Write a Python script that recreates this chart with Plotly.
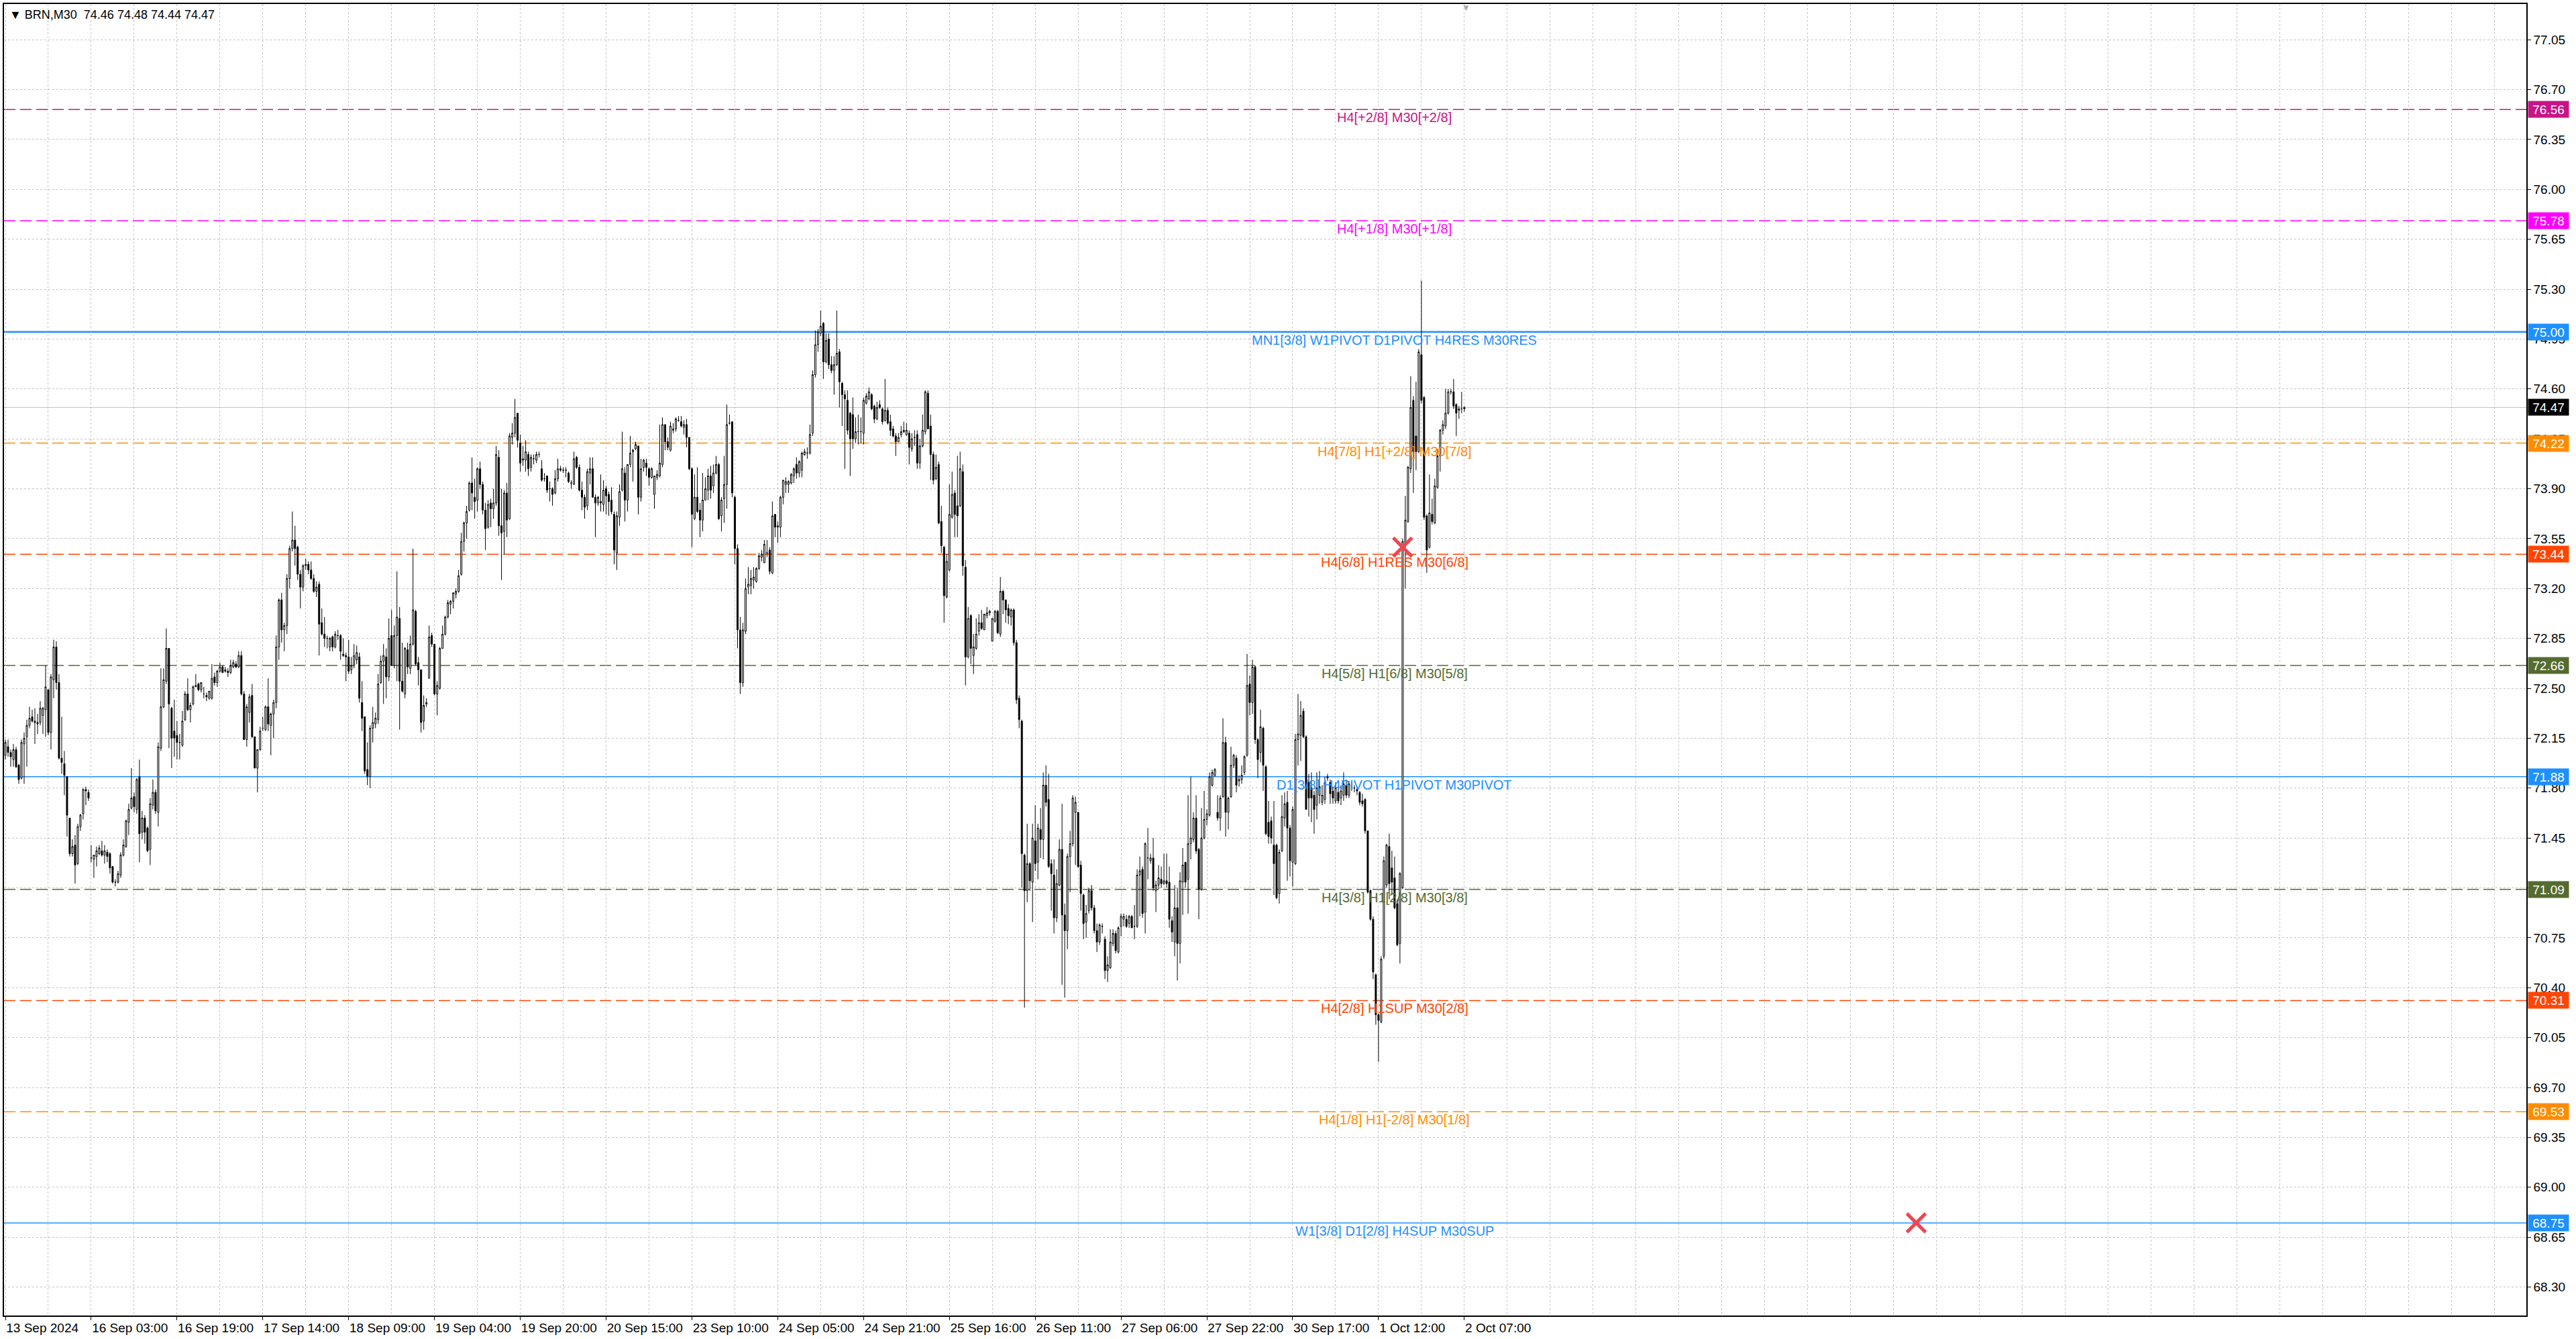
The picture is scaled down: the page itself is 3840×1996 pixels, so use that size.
import plotly.graph_objects as go

# BRN,M30 candles, x = bar number (MT4 style, no time gaps)
bar_open = [
    72.03,72.09,72.05,72.00,72.07,71.96,71.87,72.11,72.16,72.24,
    72.30,72.27,72.26,72.26,72.31,72.35,72.49,72.19,72.56,72.79,
    72.54,72.01,71.97,71.88,71.59,71.34,71.40,71.27,71.53,71.62,
    71.79,71.77,71.31,71.30,71.32,71.34,71.36,71.33,71.35,71.34,
    71.25,71.14,71.14,71.19,71.33,71.39,71.56,71.66,71.74,71.65,
    71.88,71.49,71.59,71.52,71.37,71.68,71.77,71.63,72.08,72.37,
    72.55,72.78,72.36,72.20,72.17,72.12,72.10,72.28,72.46,72.35,
    72.39,72.51,72.53,72.49,72.46,72.45,72.43,72.43,72.58,72.54,
    72.62,72.65,72.62,72.62,72.61,72.65,72.67,72.65,72.73,72.46,
    72.14,72.33,72.45,72.16,71.94,72.07,72.22,72.21,72.37,72.24,
    72.32,72.40,72.79,73.12,72.91,72.94,73.27,73.48,73.54,73.49,
    73.30,73.21,73.36,73.37,73.33,73.27,73.18,
    73.23,72.96,72.88,
    72.85,72.79,72.86,72.79,72.87,72.87,72.74,72.73,72.72,72.63,
    72.66,72.70,72.72,72.40,72.30,71.93,71.88,72.22,72.25,72.28,
    72.54,72.69,72.72,72.58,72.87,72.66,72.87,72.99,72.55,72.46,
    72.77,72.64,72.81,73.04,72.68,72.63,72.27,72.39,72.57,72.87,
    72.81,72.46,72.50,72.78,72.88,73.00,73.09,73.11,73.16,73.18,
    73.30,73.53,73.66,73.75,73.94,73.84,73.82,74.04,73.93,73.75,
    73.63,73.80,73.76,73.80,74.12,73.64,73.60,73.87,73.69,74.26,
    74.29,74.43,74.22,74.10,74.10,74.14,74.05,74.11,74.10,74.14,
    74.04,73.97,73.99,73.90,73.90,73.87,73.97,74.04,74.03,74.03,
    74.01,73.94,73.93,74.12,74.05,73.89,73.84,73.78,74.01,74.04,
    73.84,73.80,73.81,73.79,73.90,73.86,73.82,73.72,73.45,73.70,
    73.89,74.01,73.82,74.07,74.16,74.18,74.20,73.84,74.05,74.08,
    74.04,73.98,73.86,73.98,73.99,74.07,74.35,74.23,74.17,74.31,
    74.32,74.38,74.37,74.33,74.35,74.26,74.04,73.69,73.84,73.75,
    73.68,73.82,73.89,73.99,73.92,74.01,74.07,73.71,73.83,73.93,
    74.36,74.37,73.84,73.48,72.91,72.54,72.90,73.21,73.22,73.26,
    73.25,73.34,73.42,73.38,73.45,73.47,73.31,73.72,73.63,73.63,
    73.84,73.93,73.93,73.94,73.99,74.07,74.01,74.03,74.14,74.15,
    74.15,74.29,74.70,74.91,74.99,75.06,74.79,74.95,74.77,74.73,
    74.77,74.86,74.64,74.56,74.52,74.43,74.42,74.25,74.30,74.30,
    74.29,74.50,74.53,74.56,74.48,74.39,74.49,74.46,74.38,74.45,
    74.37,74.32,74.27,74.23,74.28,74.30,74.28,74.29,74.18,74.26,
    74.28,74.08,74.20,74.30,74.57,74.34,74.14,
    73.97,74.07,73.67,
    73.49,73.14,73.33,73.70,73.87,73.78,73.78,74.02,73.35,72.72,
    73.01,72.73,72.78,72.90,72.96,72.91,73.01,73.03,72.83,72.97,
    73.04,72.88,73.18,73.12,73.06,73.00,73.05,72.82,72.43,72.27,
    71.33,71.08,71.27,71.14,71.43,71.28,71.51,71.44,71.82,71.72,
    71.27,71.19,70.89,71.12,71.37,70.91,70.80,71.32,71.41,71.63,
    71.63,71.26,71.05,70.86,70.94,71.08,70.96,70.80,70.72,70.83,
    70.74,70.52,70.54,70.71,70.78,70.65,70.83,70.88,70.88,70.85,
    70.90,70.83,70.83,71.19,71.23,70.93,71.31,71.29,71.31,71.08,
    71.12,71.16,71.13,71.15,71.14,70.87,70.72,70.96,70.71,71.14,
    71.28,71.16,71.41,71.44,71.59,71.37,71.09,71.45,71.58,71.61,
    71.82,71.89,71.63,71.59,71.74,72.12,71.63,71.74,71.96,72.01,
    71.85,71.86,
    71.91,72.03,72.53,72.40,72.65,72.14,72.05,72.22,
    71.95,71.56,71.57,71.40,71.40,71.06,71.36,71.59,71.70,71.52,
    71.28,71.27,72.14,72.17,72.34,72.16,71.84,71.80,71.75,71.68,
    71.75,71.70,71.72,71.87,71.84,71.78,71.71,71.77,71.73,71.75,
    71.82,71.75,71.81,71.80,71.79,71.77,71.71,71.72,71.50,71.08,
    70.88,70.49,70.21,70.16,70.62,71.12,71.39,71.24,71.17,70.99,
    70.71,71.10,73.52,73.67,74.04,74.52,74.27,74.16,74.84,74.54,
    73.71,73.49,73.72,73.66,73.91,74.13,74.31,74.34,74.43,74.58,
    74.58,74.49,74.45,74.46,74.46,
]
bar_high = [
    72.14,72.14,72.07,72.11,72.09,71.97,72.14,72.19,72.28,72.37,
    72.35,72.36,72.32,72.41,72.37,72.66,72.49,72.60,72.84,72.83,
    72.60,72.30,72.06,71.88,71.59,71.44,71.47,71.55,71.62,71.80,
    71.81,71.79,71.40,71.33,71.39,71.40,71.43,71.40,71.37,71.35,
    71.25,71.16,71.22,71.35,71.44,71.58,71.69,71.94,71.77,71.87,
    72.00,71.64,71.61,71.53,71.73,71.86,71.79,72.12,72.64,72.64,
    72.92,72.78,72.37,72.42,72.27,72.18,72.34,72.48,72.57,72.40,
    72.52,72.60,72.54,72.54,72.51,72.47,72.48,72.67,72.61,72.63,
    72.68,72.66,72.65,72.64,72.70,72.70,72.69,72.76,72.76,72.48,
    72.39,72.46,72.53,72.16,72.07,72.23,72.30,72.38,72.57,72.33,
    72.42,72.87,73.13,73.17,72.96,73.30,73.50,73.74,73.64,73.50,
    73.33,73.37,73.41,73.39,73.39,73.30,73.25,
    73.25,73.06,73.00,
    72.87,72.86,72.87,72.90,72.91,72.88,72.85,72.75,72.84,72.72,
    72.81,72.80,72.75,72.55,72.30,72.12,72.24,72.37,72.33,72.60,
    72.73,72.81,72.78,72.99,73.05,72.94,73.32,73.07,72.82,72.79,
    72.82,72.87,73.48,73.05,72.72,72.63,72.45,72.43,72.94,72.89,
    72.81,72.55,72.79,72.94,73.01,73.12,73.12,73.17,73.20,73.33,
    73.59,73.67,73.78,73.95,74.12,73.97,74.05,74.09,73.95,73.80,
    73.82,73.83,73.90,74.20,74.17,73.90,73.89,73.94,74.29,74.36,
    74.53,74.43,74.28,74.20,74.24,74.16,74.14,74.14,74.16,74.16,
    74.10,74.01,73.99,73.95,73.91,74.03,74.11,74.06,74.05,74.05,
    74.02,73.96,74.16,74.13,74.07,73.95,73.86,74.04,74.12,74.12,
    73.86,73.85,74.00,73.96,73.92,73.88,73.91,73.74,73.74,73.93,
    74.30,74.05,74.07,74.27,74.18,74.23,74.20,74.11,74.11,74.11,
    74.05,74.05,73.99,74.03,74.35,74.40,74.35,74.26,74.37,74.36,
    74.40,74.41,74.41,74.38,74.39,74.26,74.05,74.00,74.05,73.80,
    74.01,73.98,74.04,74.06,74.07,74.13,74.08,73.84,74.13,74.49,
    74.42,74.37,73.85,73.51,73.00,72.96,73.27,73.35,73.33,73.35,
    73.35,73.45,73.47,73.54,73.54,73.49,73.81,73.72,73.67,73.85,
    73.96,73.98,73.96,74.01,74.05,74.12,74.10,74.16,74.18,74.19,
    74.35,74.73,75.01,75.02,75.15,75.07,74.99,74.99,74.83,74.83,
    75.15,74.88,74.65,74.59,74.59,74.44,74.54,74.40,74.42,74.40,
    74.54,74.57,74.61,74.57,74.49,74.51,74.52,74.47,74.67,74.47,
    74.42,74.34,74.29,74.29,74.34,74.37,74.36,74.31,74.29,74.31,
    74.31,74.25,74.42,74.59,74.59,74.42,74.16,
    74.14,74.09,73.78,
    73.50,73.44,73.93,74.02,73.89,74.13,74.16,74.07,73.40,73.07,
    73.02,72.88,72.99,73.02,73.05,73.02,73.07,73.05,72.99,73.05,
    73.05,73.28,73.19,73.12,73.09,73.06,73.06,72.84,72.45,72.28,
    71.34,71.55,71.28,71.55,71.68,71.55,71.66,71.91,71.96,71.90,
    71.30,71.30,71.23,71.44,71.69,70.99,71.34,71.50,71.75,71.74,
    71.63,71.29,71.06,70.98,71.10,71.12,70.98,70.85,70.85,70.85,
    70.76,70.62,70.81,70.81,70.80,70.83,70.92,70.92,70.91,70.91,
    70.91,70.98,71.23,71.32,71.25,71.42,71.52,71.34,71.45,71.15,
    71.26,71.25,71.34,71.34,71.25,70.90,71.12,71.10,71.21,71.38,
    71.28,71.75,71.88,71.63,71.75,71.38,71.66,71.78,71.65,71.91,
    71.93,71.94,71.75,71.75,72.29,72.16,71.74,72.09,72.04,72.03,
    71.89,71.96,
    72.03,72.74,72.59,72.70,72.66,72.15,72.35,72.23,
    71.96,71.71,71.60,71.71,71.41,71.37,71.75,71.77,71.78,71.54,
    71.67,72.18,72.46,72.41,72.36,72.17,71.90,71.91,71.78,71.91,
    71.92,71.82,71.88,71.90,71.86,71.81,71.84,71.81,71.82,71.91,
    71.86,71.85,71.84,71.82,71.81,71.78,71.76,71.73,71.50,71.09,
    70.90,70.50,70.22,70.62,71.32,71.41,71.48,71.36,71.32,71.02,
    71.21,73.55,73.85,74.06,74.69,74.55,74.65,74.88,75.36,74.55,
    73.72,74.00,73.83,73.97,74.18,74.32,74.38,74.60,74.60,74.60,
    74.67,74.50,74.48,74.58,74.48,
]
bar_low = [
    72.00,72.02,71.95,71.95,71.94,71.83,71.86,71.83,71.95,72.22,
    72.26,72.11,72.18,72.24,72.18,72.16,72.17,72.07,72.43,72.49,
    72.00,71.90,71.75,71.46,71.32,71.32,71.13,71.26,71.50,71.58,
    71.68,71.71,71.28,71.17,71.25,71.33,71.32,71.27,71.28,71.20,
    71.13,71.11,71.13,71.17,71.32,71.38,71.47,71.65,71.63,71.62,
    71.28,71.44,71.41,71.35,71.26,71.65,71.62,71.53,72.06,72.36,
    72.53,72.08,71.94,72.02,72.00,72.00,72.09,72.27,72.34,72.26,
    72.38,72.51,72.48,72.47,72.43,72.41,72.42,72.42,72.52,72.51,
    72.61,72.61,72.61,72.58,72.60,72.64,72.64,72.64,72.45,72.14,
    72.09,72.26,72.15,71.94,71.77,72.06,72.20,72.20,72.20,72.03,
    72.15,72.36,72.70,72.82,72.76,72.88,73.20,73.46,73.36,73.26,
    73.06,73.18,73.33,73.30,73.26,73.17,73.14,
    72.73,72.87,72.79,
    72.78,72.76,72.76,72.78,72.84,72.70,72.72,72.55,72.60,72.60,
    72.64,72.67,72.40,72.20,71.90,71.82,71.80,72.12,72.22,72.25,
    72.53,72.39,72.43,72.55,72.66,72.64,72.55,72.21,72.47,72.43,
    72.60,72.60,72.80,72.66,72.52,72.19,72.21,72.37,72.57,72.79,
    72.45,72.31,72.49,72.78,72.87,72.99,73.02,73.06,73.13,73.17,
    73.29,73.46,73.55,73.74,73.75,73.69,73.74,73.90,73.72,73.47,
    73.62,73.63,73.69,73.78,73.57,73.26,73.44,73.56,73.68,74.21,
    74.26,74.19,74.02,74.06,74.02,73.99,74.02,74.07,74.08,74.12,
    73.95,73.95,73.87,73.81,73.78,73.86,73.95,74.02,74.01,73.98,
    73.94,73.90,73.93,74.04,73.88,73.75,73.69,73.75,73.93,73.84,
    73.56,73.78,73.74,73.74,73.72,73.71,73.72,73.37,73.33,73.64,
    73.88,73.67,73.74,74.05,73.95,74.17,73.72,73.81,74.02,73.99,
    73.92,73.97,73.76,73.96,73.98,74.05,74.17,74.17,74.16,74.29,
    74.30,74.37,74.33,74.28,74.19,74.03,73.49,73.68,73.73,73.56,
    73.60,73.82,73.82,73.83,73.87,74.00,73.68,73.60,73.66,73.76,
    74.35,73.84,73.37,72.78,72.46,72.51,72.88,73.16,73.16,73.20,
    73.24,73.33,73.39,73.38,73.42,73.30,73.30,73.56,73.52,73.56,
    73.79,73.87,73.87,73.93,73.94,73.97,73.98,73.98,74.13,74.11,
    74.14,74.27,74.68,74.86,74.97,74.67,74.78,74.74,74.71,74.56,
    74.76,74.47,74.34,74.04,74.28,73.99,74.18,74.22,74.21,74.22,
    74.21,74.49,74.52,74.45,74.36,74.38,74.46,74.35,74.37,74.35,
    74.27,74.26,74.13,74.23,74.26,74.29,74.27,74.07,74.16,74.20,
    74.04,74.04,74.19,74.28,74.32,73.96,73.93,
    73.96,73.65,73.45,
    72.96,73.13,73.32,73.69,73.56,73.56,73.77,73.29,72.52,72.71,
    72.67,72.60,72.77,72.87,72.91,72.91,72.99,73.01,72.83,72.96,
    72.88,72.86,73.02,72.96,72.95,72.94,72.80,72.39,72.22,71.10,
    70.26,71.00,71.08,70.86,71.22,71.16,71.31,71.30,71.67,71.24,
    70.94,70.78,70.86,71.11,70.42,70.33,70.67,71.07,71.39,71.26,
    71.24,70.94,70.74,70.75,70.92,70.94,70.78,70.65,70.70,70.78,
    70.46,70.44,70.53,70.69,70.64,70.64,70.76,70.83,70.82,70.82,
    70.82,70.74,70.82,70.90,70.89,70.78,71.16,71.27,71.08,70.93,
    71.09,71.10,71.12,71.10,70.82,70.72,70.62,70.45,70.57,70.91,
    71.10,70.92,71.30,71.42,71.34,70.88,71.08,71.44,71.54,71.60,
    71.81,71.88,71.57,71.50,71.73,71.46,71.51,71.73,71.94,71.77,
    71.81,71.83,
    71.89,72.02,72.31,72.32,72.11,71.87,71.98,71.78,
    71.47,71.41,71.41,71.05,71.02,70.99,71.35,71.53,71.15,71.18,
    71.11,71.26,71.96,71.99,72.15,71.65,71.60,71.56,71.48,71.58,
    71.69,71.68,71.69,71.85,71.69,71.69,71.69,71.69,71.68,71.71,
    71.73,71.73,71.78,71.77,71.75,71.68,71.67,71.48,71.06,70.87,
    70.46,70.14,69.88,70.15,70.60,71.10,71.02,71.05,70.95,70.69,
    70.57,71.09,73.20,73.66,74.01,73.87,74.03,74.15,74.50,73.68,
    73.31,73.48,73.65,73.65,73.90,74.02,74.28,74.32,74.42,74.56,
    74.46,74.27,74.39,74.43,74.44,
]
bar_close = [
    72.12,72.05,72.02,72.07,71.95,71.86,72.12,72.15,72.24,72.29,
    72.27,72.26,72.25,72.36,72.36,72.51,72.19,72.58,72.79,72.54,
    72.01,71.98,71.89,71.61,71.34,71.39,71.26,71.53,71.61,71.79,
    71.78,71.73,71.31,71.33,71.36,71.38,71.33,71.36,71.32,71.24,
    71.14,71.14,71.20,71.33,71.40,71.57,71.65,71.73,71.67,71.86,
    71.48,71.59,71.49,71.36,71.69,71.77,71.64,72.09,72.37,72.56,
    72.78,72.39,72.15,72.15,72.12,72.12,72.27,72.46,72.35,72.38,
    72.51,72.52,72.49,72.54,72.46,72.44,72.48,72.57,72.54,72.62,
    72.65,72.61,72.63,72.61,72.66,72.68,72.65,72.73,72.46,72.14,
    72.37,72.44,72.16,71.94,72.07,72.20,72.22,72.37,72.25,72.32,
    72.40,72.79,73.12,72.91,72.94,73.27,73.48,73.54,73.48,73.30,
    73.21,73.36,73.37,73.33,73.27,73.18,73.21,
    72.95,72.88,72.85,
    72.85,72.85,72.79,72.88,72.87,72.76,72.73,72.72,72.62,72.66,
    72.73,72.75,72.43,72.29,71.92,71.88,72.22,72.26,72.29,72.53,
    72.69,72.73,72.58,72.85,72.66,72.87,73.00,72.55,72.48,72.78,
    72.65,72.81,73.05,72.67,72.63,72.26,72.38,72.40,72.86,72.81,
    72.46,72.52,72.78,72.88,73.00,73.10,73.11,73.17,73.18,73.29,
    73.53,73.66,73.74,73.94,73.87,73.81,74.04,73.93,73.75,73.62,
    73.79,73.76,73.80,74.14,73.64,73.59,73.87,73.68,74.27,74.29,
    74.40,74.24,74.08,74.11,74.16,74.04,74.12,74.11,74.14,74.14,
    73.96,73.97,73.89,73.90,73.86,73.97,74.04,74.03,74.03,74.03,
    73.95,73.94,74.11,74.05,73.89,73.84,73.77,74.02,74.04,73.84,
    73.80,73.84,73.80,73.89,73.85,73.81,73.74,73.47,73.71,73.88,
    74.04,73.82,74.07,74.15,74.17,74.21,73.84,74.04,74.10,74.05,
    73.98,74.04,73.99,74.00,74.08,74.35,74.23,74.19,74.34,74.32,
    74.39,74.38,74.34,74.35,74.26,74.04,73.72,73.84,73.74,73.68,
    73.82,73.90,73.99,73.89,74.01,74.07,73.69,73.82,73.93,74.35,
    74.36,73.87,73.48,72.91,72.54,72.91,73.20,73.23,73.27,73.28,
    73.34,73.43,73.44,73.51,73.45,73.32,73.71,73.63,73.64,73.84,
    73.96,73.95,73.95,74.00,74.04,74.01,74.09,74.15,74.16,74.15,
    74.28,74.70,74.91,75.00,75.04,74.79,74.94,74.77,74.73,74.77,
    74.85,74.65,74.56,74.53,74.31,74.25,74.25,74.30,74.30,74.30,
    74.52,74.55,74.58,74.46,74.39,74.47,74.47,74.37,74.45,74.36,
    74.31,74.27,74.23,74.26,74.30,74.31,74.31,74.19,74.25,74.26,
    74.08,74.20,74.31,74.58,74.32,74.14,73.96,
    74.05,73.66,73.50,
    73.15,73.39,73.72,73.86,73.72,73.71,74.04,73.36,72.72,72.99,
    72.78,72.79,72.88,72.96,72.92,73.02,73.03,73.04,72.99,73.04,
    72.89,73.18,73.12,73.05,73.01,73.05,72.82,72.42,72.28,71.34,
    71.08,71.27,71.15,71.45,71.27,71.52,71.44,71.82,71.70,71.25,
    71.20,70.89,71.13,71.37,70.91,70.80,71.32,71.41,71.73,71.70,
    71.25,71.06,70.85,70.92,71.08,70.96,70.80,70.72,70.84,70.83,
    70.52,70.56,70.72,70.78,70.66,70.82,70.90,70.90,70.83,70.90,
    70.82,70.83,71.19,71.22,70.92,71.41,71.31,71.31,71.10,71.12,
    71.17,71.13,71.15,71.13,70.88,70.79,70.96,70.71,71.15,71.26,
    71.14,71.41,71.45,71.59,71.36,71.09,71.45,71.58,71.62,71.88,
    71.91,71.93,71.59,71.73,72.12,71.63,71.73,71.96,72.03,71.82,
    71.86,71.89,
    72.02,72.52,72.40,72.65,72.14,72.00,72.23,71.96,
    71.48,71.46,71.45,71.27,71.03,71.35,71.60,71.69,71.52,71.29,
    71.65,72.14,72.18,72.31,72.16,71.65,71.73,71.73,71.65,71.80,
    71.81,71.75,71.84,71.88,71.76,71.73,71.80,71.71,71.78,71.83,
    71.75,71.83,71.81,71.80,71.78,71.70,71.69,71.50,71.07,70.88,
    70.51,70.21,70.17,70.60,71.29,71.40,71.13,71.14,70.96,70.70,
    71.20,73.53,73.68,74.05,74.47,74.16,74.16,74.86,74.52,73.70,
    73.47,73.73,73.67,73.92,74.13,74.31,74.35,74.43,74.58,74.58,
    74.48,74.43,74.46,74.46,74.47,
]

# bottom time scale: label every 32 bars
date_tick_idx = [0, 32, 64, 96, 128, 160, 192, 224, 256, 288, 320, 352,
                 384, 416, 448, 480, 512, 544]
date_tick_text = ["13 Sep 2024", "16 Sep 03:00", "16 Sep 19:00", "17 Sep 14:00",
                  "18 Sep 09:00", "19 Sep 04:00", "19 Sep 20:00", "20 Sep 15:00",
                  "23 Sep 10:00", "24 Sep 05:00", "24 Sep 21:00", "25 Sep 16:00",
                  "26 Sep 11:00", "27 Sep 06:00", "27 Sep 22:00", "30 Sep 17:00",
                  "1 Oct 12:00", "2 Oct 07:00"]

price_ticks = [68.30, 68.65, 69.00, 69.35, 69.70, 70.05, 70.40, 70.75, 71.10,
               71.45, 71.80, 72.15, 72.50, 72.85, 73.20, 73.55, 73.90, 74.25,
               74.60, 74.95, 75.30, 75.65, 76.00, 76.35, 76.70, 77.05]

# Murrey math / pivot levels
level_price = [76.56, 75.78, 75.00, 74.22, 73.44, 72.66, 71.88, 71.09, 70.31, 69.53, 68.75]
level_text = ["H4[+2/8] M30[+2/8]",
              "H4[+1/8] M30[+1/8]",
              "MN1[3/8] W1PIVOT D1PIVOT H4RES M30RES",
              "H4[7/8] H1[+2/8] M30[7/8]",
              "H4[6/8] H1RES M30[6/8]",
              "H4[5/8] H1[6/8] M30[5/8]",
              "D1[3/8] H4PIVOT H1PIVOT M30PIVOT",
              "H4[3/8] H1[2/8] M30[3/8]",
              "H4[2/8] H1SUP M30[2/8]",
              "H4[1/8] H1[-2/8] M30[1/8]",
              "W1[3/8] D1[2/8] H4SUP M30SUP"]

bid_price = 74.47

# the two red crosses drawn on the chart
cross_idx = [521, 712.5]
cross_price = [73.49, 68.75]

assert len(bar_open) == len(bar_high) == len(bar_low) == len(bar_close) == 545, \
    (len(bar_open), len(bar_high), len(bar_low), len(bar_close))

# styles for the levels (same order as level_price)
level_color = ["#c71585", "#ff00ff", "#1e90ff", "#ff8c00", "#ff4500", "#556b2f",
               "#1e90ff", "#556b2f", "#ff4500", "#ff8c00", "#1e90ff"]
level_solid = [False, False, True, False, False, False, True, False, False, False, True]
level_width = [1.5, 1.5, 2.5, 1.5, 1.5, 1.5, 1.5, 1.5, 1.5, 1.5, 1.5]

AXIS_FONT = dict(family="Liberation Sans, Arial, sans-serif", size=19, color="black")
GRID = dict(showgrid=True, gridcolor="#c4c4c4", griddash="3px,3px", gridwidth=1)

fig = go.Figure()

fig.add_trace(go.Candlestick(
    x=list(range(len(bar_open))),
    open=bar_open, high=bar_high, low=bar_low, close=bar_close,
    increasing=dict(line=dict(color="black", width=1), fillcolor="white"),
    decreasing=dict(line=dict(color="black", width=1), fillcolor="black"),
    whiskerwidth=0,
    showlegend=False,
    hoverinfo="skip",
))

# level lines + text + price tags on the right scale
for p, txt, col, solid, w in zip(level_price, level_text, level_color, level_solid, level_width):
    fig.add_shape(type="line", xref="paper", x0=0, x1=1, yref="y", y0=p, y1=p,
                  line=dict(color=col, width=w, dash="solid" if solid else "17px,7px"),
                  layer="below")
    fig.add_annotation(x=518, y=p, xref="x", yref="y", text=txt, showarrow=False,
                       xanchor="center", yanchor="middle", yshift=-12,
                       font=dict(family="Liberation Sans, Arial, sans-serif", size=20, color=col))
    fig.add_annotation(x=1, y=p, xref="paper", yref="y", text=f"{p:.2f}", showarrow=False,
                       xanchor="left", yanchor="middle", xshift=2, width=58, height=22,
                       bgcolor=col, align="center",
                       font=dict(family="Liberation Sans, Arial, sans-serif", size=19, color="white"))

# bid line
fig.add_shape(type="line", xref="paper", x0=0, x1=1, yref="y", y0=bid_price, y1=bid_price,
              line=dict(color="#c0c0c0", width=1), layer="below")
fig.add_annotation(x=1, y=bid_price, xref="paper", yref="y", text=f"{bid_price:.2f}",
                   showarrow=False, xanchor="left", yanchor="middle", xshift=2,
                   width=58, height=22, bgcolor="black", align="center",
                   font=dict(family="Liberation Sans, Arial, sans-serif", size=19, color="white"))

fig.add_trace(go.Scatter(
    x=cross_idx, y=cross_price, mode="markers", showlegend=False, hoverinfo="skip",
    marker=dict(symbol="x-thin", size=28, line=dict(color="#ee4650", width=5)),
))

# chart title (symbol, timeframe, last bar OHLC)
fig.add_annotation(
    x=0, y=1, xref="paper", yref="paper", xanchor="left", yanchor="top",
    xshift=6, yshift=-4, showarrow=False,
    text=f"\u25BC BRN,M30  {bar_open[-1]:.2f} {bar_high[-1]:.2f} "
         f"{bar_low[-1]:.2f} {bar_close[-1]:.2f}",
    font=dict(family="Liberation Sans, Arial, sans-serif", size=18, color="black"),
)
# chart shift marker
fig.add_annotation(x=544.75, y=1, xref="x", yref="paper", yanchor="top", yshift=4,
                   showarrow=False, text="\u25BC",
                   font=dict(size=13, color="#a8a8a8"))

fig.update_layout(
    width=3840, height=1996,
    margin=dict(l=4, r=74, t=4, b=35),
    paper_bgcolor="white", plot_bgcolor="white",
    showlegend=False,
    font=AXIS_FONT,
    xaxis=dict(
        range=[-0.5, 940], rangeslider=dict(visible=False),
        tickmode="array", tickvals=date_tick_idx, ticktext=date_tick_text,
        ticklabelposition="outside right",
        ticks="outside", ticklen=5, tickcolor="black",
        minor=dict(tick0=0, dtick=16, ticks="", **GRID),
        showline=True, linecolor="black", linewidth=1.5, mirror=True,
        zeroline=False, tickfont=AXIS_FONT, **GRID,
    ),
    yaxis=dict(
        side="right", range=[68.10, 77.30],
        tickmode="array", tickvals=price_ticks, tickformat=".2f",
        ticks="outside", ticklen=5, tickcolor="black",
        showline=True, linecolor="black", linewidth=1.5, mirror=True,
        zeroline=False, tickfont=AXIS_FONT, **GRID,
    ),
)

fig.write_html("out.html", config={"displayModeBar": False},
               post_script="document.body.style.margin='0';document.body.style.overflow='hidden';")
